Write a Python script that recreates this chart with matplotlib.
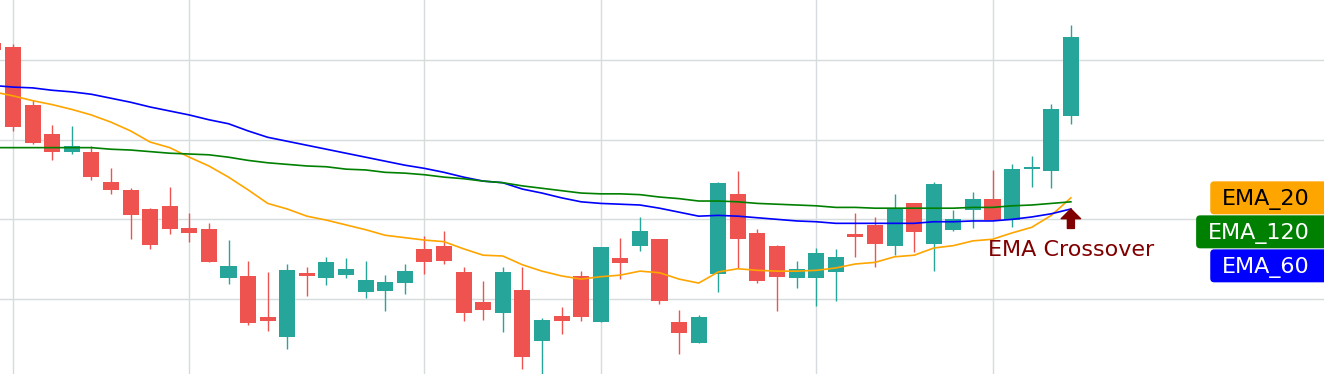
import numpy as np
import matplotlib
matplotlib.use('Agg')
import matplotlib.pyplot as plt
from matplotlib.patches import FancyBboxPatch
from matplotlib.transforms import IdentityTransform

# Candles, oldest first (the first one is only partly inside the view)
opens = [132.1, 131.6, 124.4, 120.7, 118.5, 118.5, 114.7, 113.7, 111.3, 111.7,
         108.9, 108.8, 102.6, 102.9, 97.7, 95.2, 103.3, 102.6, 103.0, 100.9,
         101.0, 102.0, 106.3, 106.7, 103.4, 99.6, 98.2, 101.1, 94.7, 97.9,
         102.9, 97.1, 105.1, 106.7, 107.5, 97.1, 94.5, 103.1, 113.2, 108.3,
         106.7, 102.6, 102.6, 103.4, 108.2, 109.3, 106.7, 112.0, 106.9, 108.7,
         111.2, 112.6, 109.9, 116.3, 116.1, 123.0]
highs = [132.5, 132.0, 125.0, 121.8, 121.7, 119.2, 116.4, 113.9, 111.4, 114.1,
         110.8, 109.5, 107.4, 104.8, 103.4, 104.4, 104.0, 105.3, 105.1, 104.8,
         103.0, 104.4, 107.9, 108.5, 104.0, 102.3, 104.0, 104.0, 97.6, 99.0,
         103.5, 106.5, 107.7, 110.3, 107.5, 98.6, 98.0, 114.7, 116.1, 108.8,
         106.8, 104.8, 106.4, 106.3, 110.8, 110.3, 113.2, 112.0, 114.7, 111.2,
         113.4, 116.2, 116.9, 117.9, 124.5, 134.4]
lows = [130.8, 121.1, 119.5, 117.4, 118.2, 114.9, 113.2, 107.5, 106.3, 108.2,
        107.2, 104.6, 101.9, 96.7, 96.0, 93.7, 100.4, 101.8, 102.6, 100.1,
        98.5, 100.6, 103.1, 104.4, 97.2, 97.4, 95.9, 91.2, 90.6, 95.6,
        97.2, 97.1, 102.5, 106.0, 99.4, 93.1, 94.5, 100.9, 103.9, 102.0,
        98.5, 101.4, 99.1, 99.7, 105.3, 104.0, 105.5, 105.9, 103.5, 108.5,
        108.9, 109.9, 109.0, 114.1, 113.9, 122.0]
closes = [131.3, 121.6, 119.6, 118.5, 119.2, 115.3, 113.7, 110.5, 106.8, 108.8,
          108.3, 104.6, 104.1, 97.0, 97.2, 103.6, 102.9, 104.6, 103.8, 102.4,
          102.1, 103.5, 104.6, 104.8, 98.2, 98.6, 103.4, 92.7, 97.4, 97.2,
          97.7, 106.5, 104.5, 108.5, 99.7, 95.7, 97.7, 114.6, 107.5, 102.3,
          102.8, 103.8, 105.8, 105.3, 107.8, 106.9, 111.4, 108.4, 114.4, 110.0,
          112.6, 109.9, 116.3, 116.6, 123.8, 132.9]

ema_20 = [126.0, 125.5, 124.9, 124.4, 123.8, 123.1, 122.2, 121.1, 119.7, 119.0,
          117.8, 116.7, 115.3, 113.7, 112.0, 111.3, 110.4, 109.9, 109.3, 108.7,
          108.0, 107.7, 107.4, 107.2, 106.3, 105.5, 105.4, 104.3, 103.5, 102.9,
          102.5, 102.8, 103.0, 103.5, 103.3, 102.5, 102.0, 103.4, 103.8, 103.6,
          103.5, 103.5, 103.6, 103.9, 104.4, 104.6, 105.3, 105.5, 106.4, 106.7,
          107.3, 107.5, 108.3, 109.0, 110.5, 112.7]
ema_60 = [126.8, 126.6, 126.5, 126.2, 126.0, 125.7, 125.2, 124.7, 124.1, 123.6,
          123.1, 122.5, 122.0, 121.1, 120.3, 119.8, 119.3, 118.8, 118.3, 117.8,
          117.3, 116.8, 116.4, 115.9, 115.3, 114.8, 114.6, 113.8, 113.3, 112.7,
          112.2, 112.0, 111.9, 111.8, 111.4, 110.9, 110.4, 110.5, 110.4, 110.2,
          110.0, 109.8, 109.7, 109.5, 109.5, 109.5, 109.5, 109.5, 109.7, 109.7,
          109.8, 109.8, 110.0, 110.3, 110.7, 111.3]
ema_120 = [119.0, 119.0, 119.0, 119.0, 119.0, 119.0, 118.8, 118.7, 118.5, 118.3,
           118.2, 118.1, 117.8, 117.4, 117.1, 116.9, 116.7, 116.6, 116.3, 116.2,
           115.9, 115.8, 115.6, 115.3, 115.1, 114.8, 114.6, 114.2, 113.9, 113.6,
           113.3, 113.2, 113.2, 113.1, 112.8, 112.6, 112.3, 112.3, 112.2, 112.0,
           111.9, 111.8, 111.7, 111.5, 111.5, 111.4, 111.4, 111.4, 111.4, 111.4,
           111.5, 111.5, 111.7, 111.8, 112.0, 112.2]

# bar indices where the time grid lines fall
grid_bars = [0, 9, 21, 30, 41, 50]
price_grid = [100, 110, 120, 130]

UP = '#26a69a'
DOWN = '#ef5350'
W, H = 1324, 374

fig = plt.figure(figsize=(W / 100, H / 100), dpi=100)
ax = fig.add_axes([0, 0, 1, 1])

x = np.arange(-1, len(opens) - 1)
o = np.array(opens)
c = np.array(closes)
colors = np.where(c >= o, UP, DOWN)

ax.vlines(x, lows, highs, colors=colors, linewidth=1.0, zorder=2)
body = np.maximum(np.abs(c - o), 0.15)
ax.bar(x, body, bottom=np.minimum(o, c), width=0.82, color=colors,
       linewidth=0, zorder=3)

series = [('EMA_20', ema_20, '#ffa500', 'black'),
          ('EMA_60', ema_60, '#0000ff', 'white'),
          ('EMA_120', ema_120, '#008000', 'white')]
for name, vals, col, _ in series:
    ax.plot(x, vals, color=col, linewidth=1.2, zorder=4)

ax.set_xlim(-0.664, 66.92)
ax.set_ylim(90.59, 137.53)
ax.set_xticks(grid_bars)
ax.set_yticks(price_grid)
ax.grid(True, color='#d6dcde', linewidth=1.0)
ax.set_axisbelow(True)
ax.tick_params(length=0, labelbottom=False, labelleft=False)
for s in ax.spines.values():
    s.set_visible(False)

# crossover marker on the last bar
ax.annotate('', xy=(x[-1], ema_60[-1]), xytext=(0, -14), textcoords='offset points',
            arrowprops=dict(arrowstyle='simple,head_length=0.5,head_width=1.0,tail_width=0.36',
                            mutation_scale=14, color='#800000', shrinkA=0, shrinkB=0),
            zorder=5)
ax.annotate('EMA Crossover', xy=(x[-1], ema_60[-1]), xytext=(0, -34),
            textcoords='offset points', ha='center', va='baseline',
            fontsize=16, color='#800000', zorder=5)

# price-scale style labels, stacked from the highest last value down
fig.canvas.draw()
renderer = fig.canvas.get_renderer()
ident = IdentityTransform()
order = sorted(series, key=lambda s: -s[1][-1])
y_top = ax.transData.transform((0, order[0][1][-1]))[1]
for k, (name, vals, col, tcol) in enumerate(order):
    yc = y_top - k * 34
    t = ax.text(W - 14, yc - 7.5, name, transform=ident, ha='right', va='baseline',
                fontsize=16, color=tcol, zorder=7, clip_on=False)
    ext = t.get_window_extent(renderer)
    box = FancyBboxPatch((ext.x0 - 12, yc - 16.5), W + 20 - (ext.x0 - 12), 33,
                         boxstyle='round,pad=0,rounding_size=4', transform=ident,
                         facecolor=col, edgecolor='none', zorder=6, clip_on=False)
    ax.add_patch(box)

fig.savefig('out.png', dpi=100)
